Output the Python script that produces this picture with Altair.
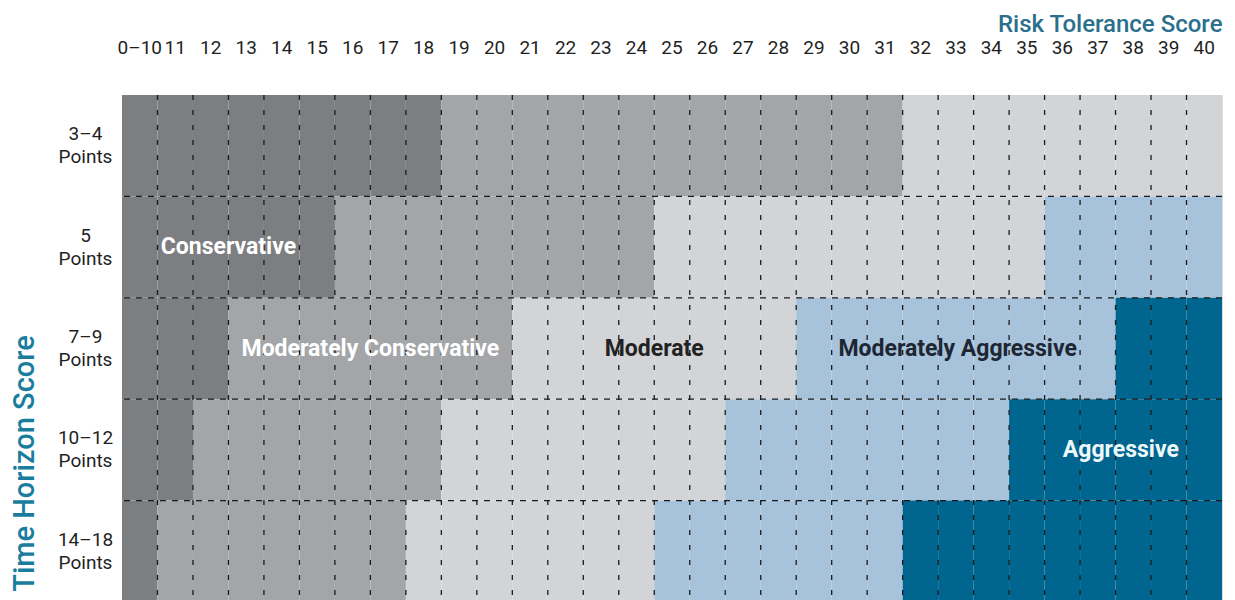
import altair as alt
import pandas as pd

# ---- data ----
col_labels = ["0–10"] + [str(s) for s in range(11, 41)]
col_scores = [10] + list(range(11, 41))
row_labels = ["3–4|Points", "5|Points", "7–9|Points", "10–12|Points", "14–18|Points"]

categories = ["Conservative", "Moderately Conservative", "Moderate",
              "Moderately Aggressive", "Aggressive"]
# last risk-tolerance score of each category, per time-horizon row
conservative_end = [18, 15, 12, 11, 10]
mod_conservative_end = [31, 24, 20, 18, 17]
moderate_end = [40, 35, 28, 26, 24]
mod_aggressive_end = [40, 40, 37, 34, 31]
aggressive_end = [40, 40, 40, 40, 40]

label_text = ["Conservative", "Moderately Conservative", "Moderate",
              "Moderately Aggressive", "Aggressive"]
label_row = [1, 2, 2, 2, 3]
label_col = [3.0, 7.0, 15.0, 23.55, 28.15]
label_color = ["#ffffff", "#ffffff", "#222222", "#1e2633", "#eef8fb"]

colors = ["#7c7e81", "#a3a5a8", "#d2d4d7", "#a7c3db", "#00668f"]

# ---- build tables ----
ends = [conservative_end, mod_conservative_end, moderate_end,
        mod_aggressive_end, aggressive_end]
cells = []
for r in range(len(row_labels)):
    for c, score in enumerate(col_scores):
        cat = next(categories[k] for k in range(5) if score <= ends[k][r])
        cells.append({"x0": c, "x1": c + 1, "r0": r, "r1": r + 1, "cat": cat})
cells = pd.DataFrame(cells)

vlines = pd.DataFrame({"b": list(range(1, len(col_labels)))})
hlines = pd.DataFrame({"b": list(range(1, len(row_labels)))})
labels = pd.DataFrame({"t": label_text, "y": [r + 0.5 for r in label_row],
                       "x": label_col, "c": label_color})
collab = pd.DataFrame({"t": col_labels,
                       "x": [i + 0.5 for i in range(len(col_labels))]})

ncol = len(col_labels)
nrow = len(row_labels)
row_arr = "[" + ",".join("'%s'" % s for s in row_labels) + "]"

FONT = "Roboto, Liberation Sans, sans-serif"

xs = alt.Scale(domain=[0, ncol], nice=False, zero=False)
ys = alt.Scale(domain=[0, nrow], nice=False, zero=False, reverse=True)

rects = alt.Chart(cells).mark_rect(stroke=None).encode(
    x=alt.X("x0:Q", scale=xs, axis=alt.Axis(
        orient="top", labels=False, ticks=False, domain=False, grid=False,
        title="Risk Tolerance Score", titleAnchor="end", titleFont=FONT,
        titleFontSize=24, titleFontWeight=500, titleColor="#2a6f8c",
        titlePadding=59)),
    x2="x1:Q",
    y=alt.Y("r0:Q", scale=ys, axis=alt.Axis(
        values=[i + 0.5 for i in range(nrow)],
        labelExpr="split(" + row_arr + "[floor(datum.value)], '|')",
        ticks=False, domain=False, grid=False,
        labelFont=FONT, labelFontSize=19, labelColor="#1f1f1f",
        labelAlign="center", labelBaseline="middle", labelLineHeight=23,
        labelOffset=-12, labelPadding=37, labelFlush=False, labelOverlap=False,
        title="Time Horizon Score", titleFont=FONT, titleFontSize=29,
        titleFontWeight=500, titleColor="#1a7d9e",
        titleX=-98, titleY=368, titleAlign="center", titleBaseline="middle",
        titleAngle=270)),
    y2="r1:Q",
    color=alt.Color("cat:N", scale=alt.Scale(domain=categories, range=colors),
                    legend=None),
)

vr = alt.Chart(vlines).mark_rule(color="#1a1a1a", strokeWidth=1.3,
                                 strokeDash=[5, 10]).encode(
    x=alt.X("b:Q", scale=xs))
hr = alt.Chart(hlines).mark_rule(color="#1a1a1a", strokeWidth=1.3,
                                 strokeDash=[6, 6]).encode(
    y=alt.Y("b:Q", scale=ys))

cl = alt.Chart(collab).mark_text(font=FONT, fontSize=19, color="#1f1f1f",
                                 align="center", baseline="middle").encode(
    x=alt.X("x:Q", scale=xs),
    y=alt.value(-47),
    text="t:N",
)

txt = alt.Chart(labels).mark_text(font=FONT, fontSize=23, fontWeight="bold",
                                  align="center", baseline="middle").encode(
    x=alt.X("x:Q", scale=xs),
    y=alt.Y("y:Q", scale=ys),
    text="t:N",
    color=alt.Color("c:N", scale=None),
)

chart = alt.layer(rects, vr, hr, cl, txt).properties(
    width=1100, height=507,
    autosize=alt.AutoSizeParams(type="none"),
    padding={"left": 114, "top": 87, "right": 5, "bottom": 0},
).configure_view(stroke=None).configure(background="white")

chart.save("out.html", embed_options={"renderer": "svg", "actions": False})
